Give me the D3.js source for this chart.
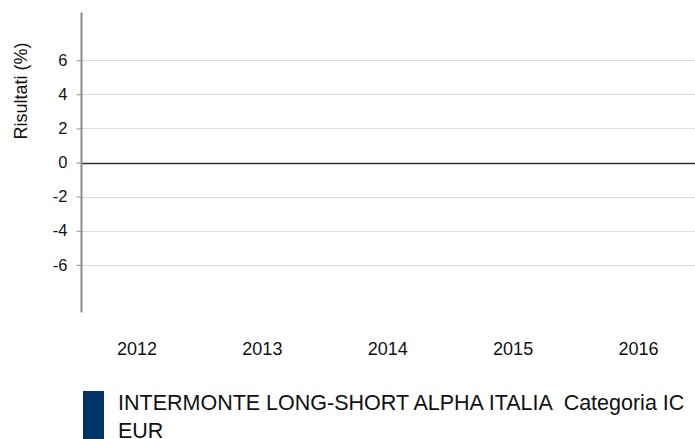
<!DOCTYPE html>
<html>
<head>
<meta charset="utf-8">
<script src="https://cdn.jsdelivr.net/npm/d3@7"></script>
<style>
  html, body { margin: 0; padding: 0; background: #fff; }
  svg { display: block; font-family: "Liberation Sans", Arial, sans-serif; }
</style>
</head>
<body>
<div id="chart"></div>
<script>
// data
const years = ["2012", "2013", "2014", "2015", "2016"];
const fundValues = [null, null, null, null, null]; // no bars shown
const yTicks = [-6, -4, -2, 0, 2, 4, 6];
const yDomain = [-8.8, 8.8];
const seriesName = "INTERMONTE LONG-SHORT ALPHA ITALIA  Categoria IC EUR";
const yTitle = "Risultati (%)";

const width = 695, height = 439;
const axisX = 81.5;

const svg = d3.select("#chart").append("svg")
    .attr("width", width)
    .attr("height", height);

// scales
const x = d3.scalePoint().domain(years).range([137, 638.5]);
const y = d3.scaleLinear().domain(yDomain).range([312.5, 12.5]);

// grid lines
svg.append("g").selectAll("line")
    .data(yTicks.filter(t => t !== 0))
    .join("line")
    .attr("x1", axisX).attr("x2", width)
    .attr("y1", d => Math.round(y(d)) + 0.5)
    .attr("y2", d => Math.round(y(d)) + 0.5)
    .attr("stroke", "#dcdcdc")
    .attr("stroke-width", 1);

// bars (empty series)
const band = 60;
svg.append("g").selectAll("rect")
    .data(years.map((yr, i) => ({ yr, v: fundValues[i] })).filter(d => d.v != null))
    .join("rect")
    .attr("x", d => x(d.yr) - band / 2)
    .attr("width", band)
    .attr("y", d => y(Math.max(0, d.v)))
    .attr("height", d => Math.abs(y(d.v) - y(0)))
    .attr("fill", "#003366");

// zero line
svg.append("line")
    .attr("x1", axisX).attr("x2", width)
    .attr("y1", Math.round(y(0)) + 0.5).attr("y2", Math.round(y(0)) + 0.5)
    .attr("stroke", "#333")
    .attr("stroke-width", 1.6);

// y axis (plain hyphen for negatives)
const yAxis = d3.axisLeft(y).tickValues(yTicks).tickSize(5).tickPadding(9)
    .tickFormat(d => String(d));
const gy = svg.append("g")
    .attr("transform", `translate(${axisX},0)`)
    .call(yAxis);
gy.select(".domain").attr("stroke", "#8c8c8c").attr("stroke-width", 2)
    .attr("d", `M0,${y.range()[0]}V${y.range()[1]}`);
gy.selectAll(".tick line").attr("stroke", "#8c8c8c");
gy.selectAll(".tick text")
    .attr("fill", "#111")
    .style("font-size", "16.5px")
    .style("font-family", "Liberation Sans, Arial, sans-serif");

// y title
svg.append("text")
    .attr("transform", `translate(27,91) rotate(-90)`)
    .attr("text-anchor", "middle")
    .attr("fill", "#111")
    .style("font-size", "18px")
    .text(yTitle);

// x labels
svg.append("g").selectAll("text")
    .data(years)
    .join("text")
    .attr("x", d => x(d))
    .attr("y", 355)
    .attr("text-anchor", "middle")
    .attr("fill", "#111")
    .style("font-size", "18px")
    .text(d => d);

// legend
svg.append("rect")
    .attr("x", 83).attr("y", 391)
    .attr("width", 21).attr("height", 60)
    .attr("fill", "#003366");

const legendText = svg.append("text")
    .attr("x", 118).attr("y", 410)
    .attr("fill", "#111")
    .style("font-size", "21.5px")
    .style("white-space", "pre");

// wrap words to the available width
const maxW = width - 118 - 4;
const words = seriesName.split(" ");
let line = [];
let tspan = legendText.append("tspan").attr("x", 118).attr("dy", 0);
words.forEach(w => {
    line.push(w);
    tspan.text(line.join(" "));
    if (tspan.node().getComputedTextLength() > maxW && line.length > 1) {
        line.pop();
        tspan.text(line.join(" "));
        line = [w];
        tspan = legendText.append("tspan").attr("x", 118).attr("dy", 28).text(w);
    }
});
</script>
</body>
</html>
